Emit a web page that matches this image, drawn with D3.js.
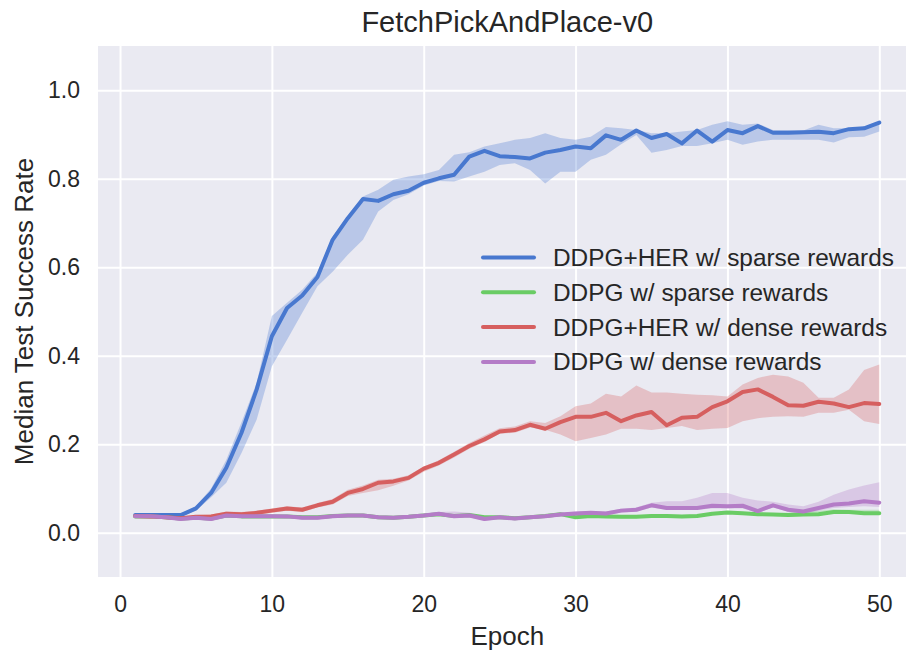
<!DOCTYPE html>
<html>
<head>
<meta charset="utf-8">
<script src="https://cdn.jsdelivr.net/npm/d3@7"></script>
<style>
  body { margin: 0; background: #fff; }
  svg { font-family: "Liberation Sans", Arial, sans-serif; }
</style>
</head>
<body>
<div class="chart"></div>
<script>
const settings = {
    width: 906,
    height: 650,
    left: 98,
    right: 916.5,
    top: 46,
    bottom: 577,
    lineWidth: 4,
    bandOpacity: 0.3
};

const epochs = d3.range(1, 51);
const xTicks = [0, 10, 20, 30, 40, 50];
const yTicks = [0.0, 0.2, 0.4, 0.6, 0.8, 1.0];
const title = 'FetchPickAndPlace-v0';

const seriesNames = [
    'DDPG+HER w/ sparse rewards',
    'DDPG w/ sparse rewards',
    'DDPG+HER w/ dense rewards',
    'DDPG w/ dense rewards'
];
const seriesColors = ['#4878CF', '#6ACC65', '#D65F5F', '#B47CC7'];

// DDPG+HER sparse
const herSparse = [0.040, 0.040, 0.040, 0.040, 0.055, 0.090, 0.147, 0.226, 0.324, 0.444,
    0.508, 0.536, 0.578, 0.662, 0.711, 0.754, 0.750, 0.765, 0.773, 0.791,
    0.801, 0.809, 0.850, 0.863, 0.851, 0.849, 0.846, 0.859, 0.865, 0.873,
    0.869, 0.898, 0.888, 0.909, 0.892, 0.901, 0.880, 0.909, 0.884, 0.910,
    0.903, 0.919, 0.904, 0.904, 0.905, 0.906, 0.903, 0.912, 0.914, 0.927];
const herSparseLo = [0.037, 0.037, 0.036, 0.036, 0.050, 0.080, 0.113, 0.180, 0.256, 0.376,
    0.436, 0.497, 0.557, 0.590, 0.628, 0.662, 0.726, 0.752, 0.765, 0.785,
    0.795, 0.794, 0.805, 0.816, 0.831, 0.835, 0.820, 0.789, 0.816, 0.816,
    0.843, 0.854, 0.878, 0.899, 0.859, 0.865, 0.874, 0.874, 0.880, 0.888,
    0.877, 0.884, 0.888, 0.888, 0.888, 0.888, 0.882, 0.894, 0.895, 0.907];
const herSparseHi = [0.042, 0.042, 0.043, 0.043, 0.060, 0.100, 0.165, 0.250, 0.339, 0.490,
    0.520, 0.549, 0.588, 0.670, 0.715, 0.760, 0.775, 0.798, 0.805, 0.810,
    0.820, 0.854, 0.860, 0.873, 0.880, 0.888, 0.892, 0.903, 0.892, 0.888,
    0.895, 0.917, 0.914, 0.910, 0.903, 0.903, 0.907, 0.910, 0.922, 0.930,
    0.922, 0.925, 0.910, 0.910, 0.909, 0.922, 0.914, 0.914, 0.917, 0.929];

// DDPG sparse
const ddpgSparse = [0.037, 0.037, 0.035, 0.032, 0.034, 0.032, 0.039, 0.037, 0.037, 0.037,
    0.037, 0.035, 0.035, 0.038, 0.039, 0.039, 0.035, 0.034, 0.036, 0.039,
    0.042, 0.038, 0.040, 0.035, 0.035, 0.033, 0.035, 0.038, 0.042, 0.035,
    0.038, 0.037, 0.036, 0.036, 0.038, 0.038, 0.037, 0.038, 0.043, 0.046,
    0.044, 0.042, 0.041, 0.040, 0.041, 0.042, 0.047, 0.047, 0.044, 0.044];
const ddpgSparseLo = [0.034, 0.034, 0.032, 0.029, 0.031, 0.029, 0.036, 0.034, 0.034, 0.034,
    0.034, 0.032, 0.032, 0.035, 0.036, 0.036, 0.032, 0.031, 0.033, 0.036,
    0.039, 0.035, 0.037, 0.032, 0.032, 0.030, 0.032, 0.035, 0.039, 0.032,
    0.035, 0.034, 0.033, 0.033, 0.035, 0.035, 0.034, 0.035, 0.040, 0.043,
    0.041, 0.039, 0.038, 0.037, 0.038, 0.039, 0.044, 0.044, 0.041, 0.041];
const ddpgSparseHi = [0.040, 0.040, 0.038, 0.035, 0.037, 0.035, 0.042, 0.040, 0.040, 0.040,
    0.040, 0.038, 0.038, 0.041, 0.042, 0.042, 0.038, 0.037, 0.039, 0.042,
    0.045, 0.041, 0.043, 0.038, 0.038, 0.036, 0.038, 0.041, 0.045, 0.038,
    0.041, 0.040, 0.039, 0.039, 0.041, 0.041, 0.040, 0.041, 0.046, 0.049,
    0.047, 0.045, 0.044, 0.045, 0.050, 0.050, 0.053, 0.052, 0.052, 0.052];

// DDPG+HER dense
const herDense = [0.038, 0.037, 0.035, 0.033, 0.036, 0.037, 0.043, 0.042, 0.045, 0.050,
    0.055, 0.052, 0.062, 0.070, 0.090, 0.099, 0.113, 0.116, 0.124, 0.145,
    0.158, 0.177, 0.196, 0.211, 0.229, 0.232, 0.244, 0.235, 0.250, 0.262,
    0.262, 0.271, 0.252, 0.265, 0.273, 0.243, 0.260, 0.262, 0.284, 0.297,
    0.318, 0.324, 0.307, 0.288, 0.287, 0.296, 0.292, 0.284, 0.293, 0.291];
const herDenseLo = [0.034, 0.033, 0.031, 0.029, 0.032, 0.033, 0.038, 0.037, 0.040, 0.045,
    0.050, 0.047, 0.057, 0.064, 0.083, 0.090, 0.096, 0.106, 0.118, 0.138,
    0.152, 0.170, 0.190, 0.205, 0.224, 0.226, 0.238, 0.233, 0.222, 0.207,
    0.214, 0.222, 0.235, 0.235, 0.232, 0.237, 0.241, 0.232, 0.235, 0.237,
    0.252, 0.259, 0.262, 0.263, 0.262, 0.271, 0.271, 0.278, 0.252, 0.246];
const herDenseHi = [0.042, 0.041, 0.039, 0.037, 0.040, 0.041, 0.048, 0.047, 0.050, 0.055,
    0.060, 0.057, 0.067, 0.076, 0.097, 0.107, 0.120, 0.122, 0.130, 0.150,
    0.164, 0.183, 0.203, 0.220, 0.236, 0.240, 0.252, 0.248, 0.263, 0.286,
    0.292, 0.314, 0.308, 0.333, 0.317, 0.317, 0.314, 0.312, 0.311, 0.308,
    0.335, 0.350, 0.357, 0.353, 0.339, 0.305, 0.305, 0.324, 0.368, 0.380];

// DDPG dense
const ddpgDense = [0.0375, 0.0375, 0.035, 0.031, 0.034, 0.031, 0.039, 0.0375, 0.0375, 0.0375,
    0.037, 0.034, 0.034, 0.0375, 0.039, 0.039, 0.035, 0.034, 0.036, 0.039,
    0.043, 0.0375, 0.039, 0.031, 0.035, 0.032, 0.035, 0.0375, 0.041, 0.0435,
    0.045, 0.0435, 0.050, 0.052, 0.062, 0.056, 0.056, 0.056, 0.061, 0.060,
    0.061, 0.049, 0.062, 0.052, 0.048, 0.056, 0.064, 0.066, 0.071, 0.068];
const ddpgDenseLo = [0.034, 0.034, 0.031, 0.027, 0.030, 0.027, 0.035, 0.034, 0.034, 0.034,
    0.033, 0.030, 0.030, 0.034, 0.035, 0.035, 0.031, 0.030, 0.032, 0.035,
    0.039, 0.034, 0.035, 0.027, 0.031, 0.028, 0.031, 0.034, 0.037, 0.039,
    0.041, 0.039, 0.046, 0.048, 0.057, 0.052, 0.052, 0.052, 0.055, 0.055,
    0.055, 0.045, 0.057, 0.048, 0.044, 0.050, 0.056, 0.058, 0.060, 0.058];
const ddpgDenseHi = [0.041, 0.041, 0.039, 0.035, 0.038, 0.035, 0.043, 0.041, 0.041, 0.041,
    0.041, 0.038, 0.038, 0.041, 0.043, 0.043, 0.039, 0.038, 0.040, 0.043,
    0.047, 0.048, 0.045, 0.036, 0.039, 0.036, 0.039, 0.041, 0.045, 0.048,
    0.049, 0.048, 0.054, 0.057, 0.068, 0.071, 0.071, 0.079, 0.090, 0.090,
    0.079, 0.073, 0.070, 0.064, 0.060, 0.070, 0.086, 0.098, 0.107, 0.114];

const seriesData = [
    { mid: herSparse, lo: herSparseLo, hi: herSparseHi },
    { mid: ddpgSparse, lo: ddpgSparseLo, hi: ddpgSparseHi },
    { mid: herDense, lo: herDenseLo, hi: herDenseHi },
    { mid: ddpgDense, lo: ddpgDenseLo, hi: ddpgDenseHi }
];

const svg = d3.select('.chart')
    .append('svg')
    .attr('width', settings.width)
    .attr('height', settings.height);

const x = d3.scaleLinear()
    .domain([-1.45, 52.45])
    .range([settings.left, settings.right]);

const y = d3.scaleLinear()
    .domain([-0.1, 1.1])
    .range([settings.bottom, settings.top]);

svg.append('defs').append('clipPath')
    .attr('id', 'plotclip')
    .append('rect')
    .attr('x', settings.left)
    .attr('y', settings.top)
    .attr('width', settings.right - settings.left)
    .attr('height', settings.bottom - settings.top);

svg.append('rect')
    .attr('x', settings.left)
    .attr('y', settings.top)
    .attr('width', settings.right - settings.left)
    .attr('height', settings.bottom - settings.top)
    .attr('fill', '#EAEAF2');

// grid
svg.append('g')
    .attr('transform', `translate(0,${settings.bottom})`)
    .call(d3.axisBottom(x).tickValues(xTicks).tickSize(-(settings.bottom - settings.top)).tickFormat(''))
    .call(g => g.select('.domain').remove())
    .call(g => g.selectAll('line').attr('stroke', '#fff').attr('stroke-width', 2));

svg.append('g')
    .attr('transform', `translate(${settings.left},0)`)
    .call(d3.axisLeft(y).tickValues(yTicks).tickSize(-(settings.right - settings.left)).tickFormat(''))
    .call(g => g.select('.domain').remove())
    .call(g => g.selectAll('line').attr('stroke', '#fff').attr('stroke-width', 2));

// tick labels
svg.append('g')
    .attr('transform', `translate(0,${settings.bottom})`)
    .call(d3.axisBottom(x).tickValues(xTicks).tickSize(0).tickPadding(35).tickFormat(d3.format('d')))
    .call(g => g.select('.domain').remove())
    .call(g => g.selectAll('text')
        .attr('font-size', 23)
        .attr('font-family', '"Liberation Sans", Arial, sans-serif')
        .attr('fill', '#262626')
        .attr('dy', 0));

svg.append('g')
    .attr('transform', `translate(${settings.left},0)`)
    .call(d3.axisLeft(y).tickValues(yTicks).tickSize(0).tickPadding(18).tickFormat(d3.format('.1f')))
    .call(g => g.select('.domain').remove())
    .call(g => g.selectAll('text')
        .attr('font-size', 23)
        .attr('font-family', '"Liberation Sans", Arial, sans-serif')
        .attr('fill', '#262626'));

const plot = svg.append('g').attr('clip-path', 'url(#plotclip)');

const area = d3.area()
    .x((d, i) => x(epochs[i]))
    .y0(d => y(d[0]))
    .y1(d => y(d[1]));

const line = d3.line()
    .x((d, i) => x(epochs[i]))
    .y(d => y(d));

seriesData.forEach((s, k) => {
    plot.append('path')
        .datum(s.lo.map((v, i) => [v, s.hi[i]]))
        .attr('d', area)
        .attr('fill', seriesColors[k])
        .attr('fill-opacity', settings.bandOpacity);
    plot.append('path')
        .datum(s.mid)
        .attr('d', line)
        .attr('fill', 'none')
        .attr('stroke', seriesColors[k])
        .attr('stroke-width', settings.lineWidth)
        .attr('stroke-linecap', 'round')
        .attr('stroke-linejoin', 'round');
});

// legend
const legend = svg.append('g');
seriesNames.forEach((name, k) => {
    const ly = 257.5 + k * 34.8;
    legend.append('line')
        .attr('x1', 483).attr('x2', 534)
        .attr('y1', ly).attr('y2', ly)
        .attr('stroke', seriesColors[k])
        .attr('stroke-width', settings.lineWidth)
        .attr('stroke-linecap', 'round');
    legend.append('text')
        .attr('x', 553)
        .attr('y', ly)
        .attr('dy', '0.35em')
        .attr('font-size', 24.4)
        .attr('fill', '#262626')
        .text(name);
});

// titles
svg.append('text')
    .attr('x', (settings.left + settings.right) / 2)
    .attr('y', 32)
    .attr('text-anchor', 'middle')
    .attr('font-size', 29)
    .attr('fill', '#262626')
    .text(title);

svg.append('text')
    .attr('x', (settings.left + settings.right) / 2)
    .attr('y', 645)
    .attr('text-anchor', 'middle')
    .attr('font-size', 26)
    .attr('fill', '#262626')
    .text('Epoch');

svg.append('text')
    .attr('transform', `translate(33,${(settings.top + settings.bottom) / 2}) rotate(-90)`)
    .attr('text-anchor', 'middle')
    .attr('font-size', 26)
    .attr('fill', '#262626')
    .text('Median Test Success Rate');
</script>
</body>
</html>
